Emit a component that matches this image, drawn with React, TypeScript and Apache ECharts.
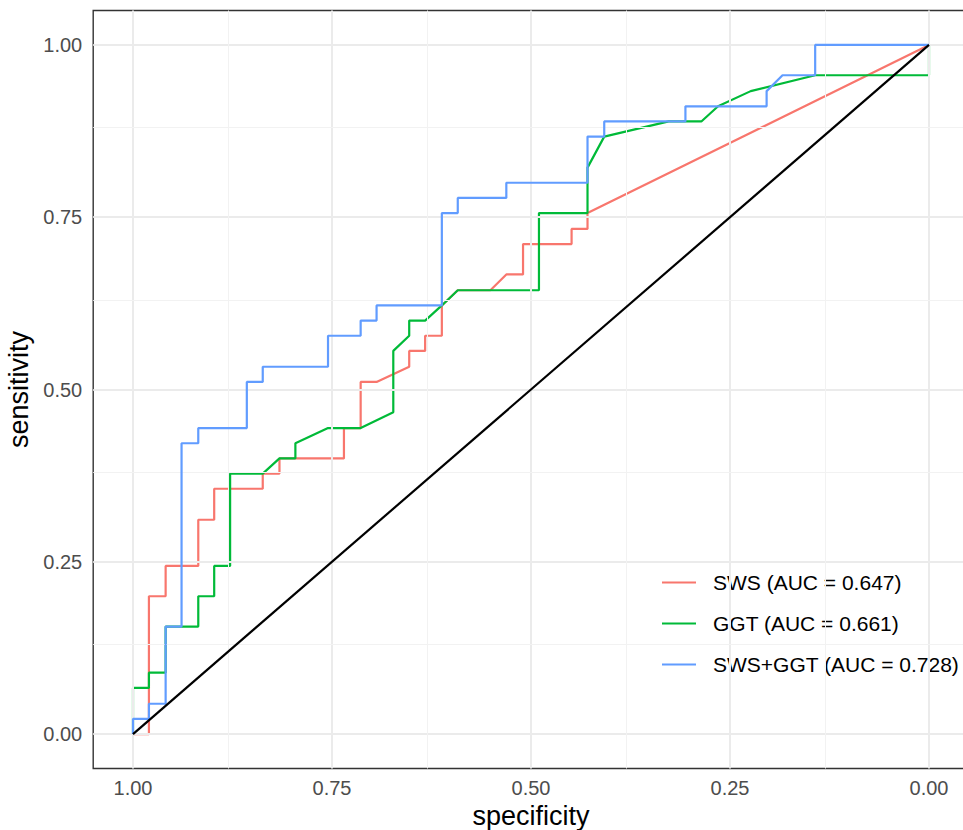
import React, { useEffect, useRef } from "react";
import * as echarts from "echarts";

const tickValues = [0, 0.25, 0.5, 0.75, 1];
const minorValues = [0.125, 0.375, 0.625, 0.875];

const seriesNames = ["SWS (AUC = 0.647)", "GGT (AUC = 0.661)", "SWS+GGT (AUC = 0.728)"];
const seriesColors = ["#F8766D", "#00BA38", "#619CFF"];

const swsSpec = [1, 0.98, 0.98, 0.959, 0.959, 0.918, 0.918, 0.898, 0.898, 0.837, 0.837, 0.816, 0.816, 0.735, 0.735, 0.714, 0.714, 0.694, 0.653, 0.653, 0.633, 0.633, 0.612, 0.612, 0.592, 0.551, 0.531, 0.51, 0.51, 0.449, 0.449, 0.429, 0.429, 0];
const swsSens = [0, 0, 0.2, 0.2, 0.244, 0.244, 0.311, 0.311, 0.356, 0.356, 0.378, 0.378, 0.4, 0.4, 0.444, 0.444, 0.511, 0.511, 0.533, 0.556, 0.556, 0.578, 0.578, 0.622, 0.644, 0.644, 0.667, 0.667, 0.711, 0.711, 0.733, 0.733, 0.756, 1];

const ggtSpec = [1, 1, 0.98, 0.98, 0.959, 0.959, 0.918, 0.918, 0.898, 0.898, 0.878, 0.878, 0.837, 0.816, 0.796, 0.796, 0.755, 0.714, 0.673, 0.673, 0.653, 0.653, 0.633, 0.612, 0.592, 0.49, 0.49, 0.429, 0.429, 0.408, 0.327, 0.286, 0.265, 0.224, 0.143, 0, 0];
const ggtSens = [0, 0.067, 0.067, 0.089, 0.089, 0.156, 0.156, 0.2, 0.2, 0.244, 0.244, 0.378, 0.378, 0.4, 0.4, 0.422, 0.444, 0.444, 0.467, 0.556, 0.578, 0.6, 0.6, 0.622, 0.644, 0.644, 0.756, 0.756, 0.822, 0.867, 0.889, 0.889, 0.911, 0.933, 0.956, 0.956, 1];

const bothSpec = [1, 1, 0.98, 0.98, 0.959, 0.959, 0.939, 0.939, 0.918, 0.918, 0.857, 0.857, 0.837, 0.837, 0.755, 0.755, 0.714, 0.714, 0.694, 0.694, 0.612, 0.612, 0.592, 0.592, 0.531, 0.531, 0.429, 0.429, 0.408, 0.408, 0.306, 0.306, 0.204, 0.204, 0.184, 0.143, 0.143, 0];
const bothSens = [0, 0.022, 0.022, 0.044, 0.044, 0.156, 0.156, 0.422, 0.422, 0.444, 0.444, 0.511, 0.511, 0.533, 0.533, 0.578, 0.578, 0.6, 0.6, 0.622, 0.622, 0.756, 0.756, 0.778, 0.778, 0.8, 0.8, 0.867, 0.867, 0.889, 0.889, 0.911, 0.911, 0.933, 0.956, 0.956, 1, 1];

const diagSpec = [1, 0];
const diagSens = [0, 1];

const zip = (a: number[], b: number[]) => a.map((v, i) => [v, b[i]]);

const FONT = "Liberation Sans, Arial, sans-serif";

export default function App() {
  const ref = useRef<HTMLDivElement>(null);
  useEffect(() => {
    if (!ref.current) return;
    const chart = echarts.init(ref.current, undefined, { renderer: "svg" });
    const gridLines: any[] = [];
    tickValues.forEach((v) => {
      gridLines.push({ xAxis: v, lineStyle: { color: "#EBEBEB", width: 2, type: "solid" } });
      gridLines.push({ yAxis: v, lineStyle: { color: "#EBEBEB", width: 2, type: "solid" } });
    });
    minorValues.forEach((v) => {
      gridLines.push({ xAxis: v, lineStyle: { color: "#F2F2F2", width: 1, type: "solid" } });
      gridLines.push({ yAxis: v, lineStyle: { color: "#F2F2F2", width: 1, type: "solid" } });
    });
    const curves = [zip(swsSpec, swsSens), zip(ggtSpec, ggtSens), zip(bothSpec, bothSens)];
    const option: any = {
      animation: false,
      backgroundColor: "#FFFFFF",
      grid: {
        left: 93.2,
        top: 10.5,
        width: 875.6,
        height: 758,
        show: true,
        borderColor: "#333333",
        borderWidth: 1.4,
        backgroundColor: "transparent",
        outerBoundsMode: "none",
        containLabel: false,
      },
      xAxis: {
        type: "value",
        inverse: true,
        min: -0.05,
        max: 1.05,
        name: "specificity",
        nameLocation: "middle",
        nameGap: 30,
        nameTextStyle: { fontFamily: FONT, fontSize: 27, color: "#000000" },
        axisLine: { show: false },
        axisTick: { show: true, length: 6, customValues: tickValues, lineStyle: { color: "#333333", width: 2 } },
        axisLabel: {
          show: true,
          customValues: tickValues,
          margin: 9,
          fontFamily: FONT,
          fontSize: 20,
          color: "#4D4D4D",
          formatter: (v: number) => v.toFixed(2),
        },
        splitLine: { show: false },
      },
      yAxis: {
        type: "value",
        min: -0.05,
        max: 1.05,
        name: "sensitivity",
        nameLocation: "middle",
        nameGap: 58,
        nameRotate: 90,
        nameTextStyle: { fontFamily: FONT, fontSize: 27, color: "#000000" },
        axisLine: { show: false },
        axisTick: { show: true, length: 6, customValues: tickValues, lineStyle: { color: "#333333", width: 2 } },
        axisLabel: {
          show: true,
          customValues: tickValues,
          margin: 11,
          fontFamily: FONT,
          fontSize: 20,
          color: "#4D4D4D",
          formatter: (v: number) => v.toFixed(2),
        },
        splitLine: { show: false },
      },
      legend: {
        data: seriesNames,
        orient: "vertical",
        left: 662,
        top: 569.5,
        padding: 0,
        itemWidth: 34,
        itemHeight: 2,
        itemGap: 15,
        icon: "rect",
        textStyle: { fontFamily: FONT, fontSize: 21, color: "#000000", padding: [0, 0, 0, 12], lineHeight: 26 },
      },
      series: [
        {
          name: "__grid",
          type: "line",
          data: [],
          silent: true,
          z: 1,
          markLine: {
            silent: true,
            symbol: ["none", "none"],
            label: { show: false },
            animation: false,
            data: gridLines,
          },
        },
        ...curves.map((d, i) => ({
          name: seriesNames[i],
          type: "line",
          data: d,
          showSymbol: false,
          symbol: "none",
          z: 3 + i,
          itemStyle: { color: seriesColors[i] },
          lineStyle: { color: seriesColors[i], width: 2.2 },
        })),
        {
          name: "__diag",
          type: "line",
          data: zip(diagSpec, diagSens),
          showSymbol: false,
          symbol: "none",
          z: 10,
          lineStyle: { color: "#000000", width: 2.2 },
        },
      ],
    };
    chart.setOption(option);
    return () => chart.dispose();
  }, []);
  return <div ref={ref} style={{ width: 963, height: 830, position: "absolute", left: 0, top: 0 }} />;
}
